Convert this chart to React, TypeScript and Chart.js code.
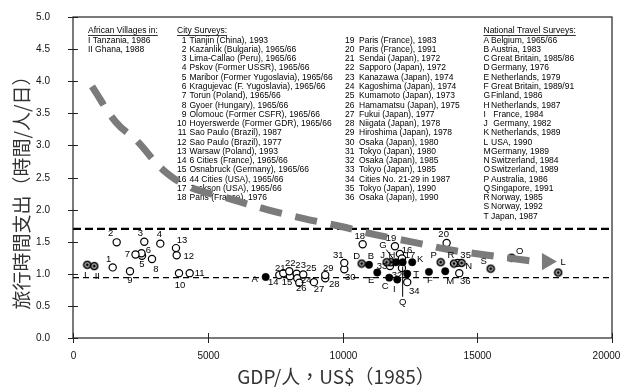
import React, { useEffect, useRef } from 'react';
import { Chart, registerables } from 'chart.js';

Chart.register(...registerables);

// ---------------- data ----------------
const X_TICKS = [0, 5000, 10000, 15000, 20000];
const Y_TICKS = [0, 0.5, 1, 1.5, 2, 2.5, 3, 3.5, 4, 4.5, 5];
const X_TITLE = 'GDP/人，US$（1985）';
const Y_TITLE = '旅行時間支出（時間/人/日）';

const budgetUpper = 1.7;
const budgetLower = 0.94;

const africanTitle = 'African Villages in:';
const africanLabels = ['I', 'II'];
const africanNames = ['Tanzania, 1986', 'Ghana, 1988'];
const africanGdp = [531, 790];
const africanTime = [1.14, 1.12];

const cityTitle = 'City Surveys:';
const cityNames = [
  'Tianjin (China), 1993',
  'Kazanlik (Bulgaria), 1965/66',
  'Lima-Callao (Peru), 1965/66',
  'Pskov (Former USSR), 1965/66',
  'Maribor (Former Yugoslavia), 1965/66',
  'Kragujevac (F. Yugoslavia), 1965/66',
  'Torun (Poland), 1965/66',
  'Gyoer (Hungary), 1965/66',
  'Olomouc (Former CSFR), 1965/66',
  'Hoyerswerde (Former GDR), 1965/66',
  'Sao Paulo (Brazil), 1987',
  'Sao Paulo (Brazil), 1977',
  'Warsaw (Poland), 1993',
  '6 Cities (France), 1965/66',
  'Osnabruck (Germany), 1965/66',
  '44 Cities (USA), 1965/66',
  'Jackson (USA), 1965/66',
  'Paris (France), 1976',
  'Paris (France), 1983',
  'Paris (France), 1991',
  'Sendai (Japan), 1972',
  'Sapporo (Japan), 1972',
  'Kanazawa (Japan), 1974',
  'Kagoshima (Japan), 1974',
  'Kumamoto (Japan), 1973',
  'Hamamatsu (Japan), 1975',
  'Fukui (Japan), 1977',
  'Niigata (Japan), 1978',
  'Hiroshima (Japan), 1978',
  'Osaka (Japan), 1980',
  'Tokyo (Japan), 1980',
  'Osaka (Japan), 1985',
  'Tokyo (Japan), 1985',
  'Cities No. 21-29 in 1987',
  'Tokyo (Japan), 1990',
  'Osaka (Japan), 1990',
];
const cityGdp = [
  1473, 1621, 2645, 3239, 2560, 2541, 2319, 2931, 2115, 3933, 4330, 3847,
  3821, 7654, 8051, 12131, 12206, 10748, 11946, 13864, 7802, 8025, 8299, 8321,
  8544, 8396, 8941, 9360, 9360, 10066, 10066, 12206, 11761, 12402, 14273, 14332,
];
const cityTime = [
  1.10, 1.49, 1.50, 1.47, 1.28, 1.32, 1.30, 1.23, 1.04, 1.01, 1.01, 1.29,
  1.40, 0.98, 0.96, 1.31, 1.24, 1.46, 1.43, 1.48, 1.01, 1.04, 1.00, 0.93,
  0.99, 0.86, 0.87, 0.93, 0.98, 1.07, 1.17, 1.09, 1.12, 0.87, 1.17, 1.01,
];

const nationalTitle = 'National Travel Surveys:';
const nationalLetters = ['A', 'B', 'C', 'D', 'E', 'F', 'G', 'H', 'I', 'J', 'K', 'L', 'M', 'N', 'O', 'P', 'Q', 'R', 'S', 'T'];
const nationalNames = [
  'Belgium, 1965/66',
  'Austria, 1983',
  'Great Britain, 1985/86',
  'Germany, 1976',
  'Netherlands, 1979',
  'Great Britain, 1989/91',
  'Finland, 1986',
  'Netherlands, 1987',
  ' France, 1984',
  ' Germany, 1982',
  'Netherlands, 1989',
  'USA, 1990',
  'Germany, 1989',
  'Switzerland, 1984',
  'Switzerland, 1989',
  'Australia, 1986',
  'Singapore, 1991',
  'Norway, 1985',
  'Norway, 1992',
  'Japan, 1987',
];
const nationalGdp = [
  7150, 10982, 11735, 10711, 11290, 13208, 11983, 11798, 12031, 11636,
  12588, 18005, 13812, 14420, 16275, 13642, 12232, 14135, 15497, 12402,
];
const nationalTime = [
  0.95, 1.14, 0.94, 1.16, 1.02, 1.03, 1.18, 1.18, 0.91, 1.18,
  1.18, 1.02, 1.04, 1.17, 1.25, 1.18, 1.18, 1.16, 1.08, 1.00,
];
const ringedNational = ['D', 'H', 'J', 'L', 'N', 'O', 'P', 'R', 'S'];

// trend arrow (hand-drawn curve in the source)
const trendGdp = [705, 1595, 2374, 3339, 4341, 5639, 7197, 8570, 9906, 11204, 12651, 14024, 15397, 16806, 17326];
const trendTime = [3.92, 3.36, 3.07, 2.62, 2.35, 2.19, 2.0, 1.86, 1.74, 1.61, 1.49, 1.37, 1.29, 1.21, 1.19];
const trendHeadGdp = 17585;
const trendHeadTime = 1.19;

// ---------------- label placement (px offsets from the mark) ----------------
const africanLabelOffsets = [[-2, 11], [3, 10]];
const cityLabelOffsets = [
  [-4, -8], [-6, -9], [-4, -8], [-1, -9], [0, 9], [7, -3], [-8, 0], [4, 10], [0, 9], [1, 12], [10, 0], [12, 1],
  [6, -8], [-6, 7], [-3, 6], [7, -4], [8, -3], [-3, -8], [-4, -8], [-3, -9], [-3, -5], [1, -8], [4, -8], [9, 2],
  [8, -6], [2, 6], [5, 7], [9, 6], [3, -7], [6, 8], [-6, -8], [-5, 7], [-8, 0], [7, 9], [8, -8], [6, 8],
];
const nationalLabelOffsets = [
  [-11, 2], [2, -8], [-4, 9], [-5, -7], [-6, 8], [1, 9], [-13, -17], [1, -7], [-3, 10], [-4, -7],
  [8, -3], [5, -10], [5, 10], [7, 3], [8, -6], [-7, -7], [0, 40], [-3, -8], [-7, -7], [9, 1],
];
const leaderLetters = ['G', 'Q'];

// ---------------- styling helpers ----------------
const SANS = '"Liberation Sans", Arial, sans-serif';
const CJK = '"Noto Sans CJK TC", "Noto Sans CJK JP", sans-serif';

function makeRinged(): HTMLCanvasElement {
  const c = document.createElement('canvas');
  c.width = 10;
  c.height = 10;
  const g = c.getContext('2d')!;
  g.fillStyle = '#000';
  g.beginPath();
  g.arc(5, 5, 4.3, 0, Math.PI * 2);
  g.fill();
  g.strokeStyle = '#fff';
  g.lineWidth = 1;
  g.beginPath();
  g.arc(5, 5, 2.2, 0, Math.PI * 2);
  g.stroke();
  return c;
}

function drawTextBlock(ctx: CanvasRenderingContext2D, left: number, top: number) {
  const row0 = top + 14;
  const dy = 9.27;
  ctx.save();
  ctx.font = `8.5px ${SANS}`;
  ctx.fillStyle = '#000';
  ctx.strokeStyle = '#000';
  ctx.textBaseline = 'middle';
  const titleU = (t: string, x: number) => {
    ctx.textAlign = 'left';
    ctx.fillText(t, x, row0);
    const w = ctx.measureText(t).width;
    ctx.lineWidth = 0.8;
    ctx.beginPath();
    ctx.moveTo(x, row0 + 4.5);
    ctx.lineTo(x + w, row0 + 4.5);
    ctx.stroke();
  };
  const c1 = left + 15;
  titleU(africanTitle, c1);
  africanLabels.forEach((l, i) => {
    ctx.textAlign = 'left';
    ctx.fillText(`${l} ${africanNames[i]}`, c1, row0 + dy * (i + 1));
  });
  const c2 = left + 104;
  titleU(cityTitle, c2);
  cityNames.forEach((n, i) => {
    const col = i < 18 ? 0 : 1;
    const yy = row0 + dy * ((i % 18) + 1);
    const numRight = col === 0 ? left + 113.5 : left + 281.5;
    const nameX = col === 0 ? left + 116.5 : left + 286;
    ctx.textAlign = 'right';
    ctx.fillText(String(i + 1), numRight, yy);
    ctx.textAlign = 'left';
    ctx.fillText(n, nameX, yy);
  });
  const c4 = left + 410.5;
  titleU(nationalTitle, c4);
  nationalLetters.forEach((l, i) => {
    const yy = row0 + dy * (i + 1);
    ctx.textAlign = 'left';
    ctx.fillText(l, c4, yy);
    ctx.fillText(nationalNames[i], c4 + 7.5, yy);
  });
  ctx.restore();
}

const overlay = {
  id: 'overlay',
  beforeDatasetsDraw(chart: any) {
    const { ctx, chartArea, scales } = chart;
    const { left, right, top, bottom } = chartArea;
    const x = scales.x;
    const y = scales.y;
    drawTextBlock(ctx, left, top);

    ctx.save();
    ctx.strokeStyle = '#000';
    // budget band lines
    ctx.lineWidth = 2.4;
    ctx.setLineDash([8, 4]);
    const yu = y.getPixelForValue(budgetUpper);
    ctx.beginPath();
    ctx.moveTo(left, yu);
    ctx.lineTo(right, yu);
    ctx.stroke();
    ctx.lineWidth = 1.2;
    ctx.setLineDash([6, 4]);
    const yl = y.getPixelForValue(budgetLower);
    ctx.beginPath();
    ctx.moveTo(left, yl);
    ctx.lineTo(right, yl);
    ctx.stroke();

    // frame
    ctx.setLineDash([]);
    ctx.strokeStyle = '#222';
    ctx.lineWidth = 1.2;
    ctx.strokeRect(left, top, right - left, bottom - top);

    // crossing tick marks + tick labels
    ctx.lineWidth = 1;
    ctx.fillStyle = '#111';
    ctx.font = `10px ${SANS}`;
    ctx.textBaseline = 'middle';
    Y_TICKS.forEach((v) => {
      const py = Math.round(y.getPixelForValue(v)) + 0.5;
      ctx.beginPath();
      ctx.moveTo(left - 5, py);
      ctx.lineTo(left + 5, py);
      ctx.stroke();
      ctx.textAlign = 'right';
      ctx.fillText(v.toFixed(1), left - 23, py);
    });
    X_TICKS.forEach((v) => {
      const px = Math.round(x.getPixelForValue(v)) + 0.5;
      ctx.beginPath();
      ctx.moveTo(px, bottom - 5);
      ctx.lineTo(px, bottom + 5);
      ctx.stroke();
      ctx.textAlign = 'center';
      ctx.fillText(String(v), v === X_TICKS[X_TICKS.length - 1] ? px - 6 : px, bottom + 18);
    });

    // axis titles
    ctx.fillStyle = '#333';
    ctx.font = `19px ${CJK}`;
    ctx.textAlign = 'center';
    ctx.textBaseline = 'middle';
    ctx.fillText(X_TITLE, 336, 377);
    ctx.save();
    ctx.translate(22, 188);
    ctx.rotate(-Math.PI / 2);
    ctx.fillText(Y_TITLE, 0, 0);
    ctx.restore();
    ctx.restore();
  },
  afterDatasetsDraw(chart: any) {
    const { ctx, scales } = chart;
    const x = scales.x;
    const y = scales.y;
    ctx.save();
    ctx.font = `9.5px ${SANS}`;
    ctx.fillStyle = '#000';
    ctx.strokeStyle = '#000';
    ctx.textAlign = 'center';
    ctx.textBaseline = 'middle';
    const put = (t: string, gx: number, gy: number, off: number[], leader: boolean) => {
      const px = x.getPixelForValue(gx);
      const py = y.getPixelForValue(gy);
      const lx = px + off[0];
      const ly = py + off[1];
      ctx.fillText(t, lx, ly);
      if (leader) {
        const dx = lx - px;
        const dyy = ly - py;
        const len = Math.hypot(dx, dyy);
        const ux = dx / len;
        const uy = dyy / len;
        ctx.lineWidth = 1;
        ctx.beginPath();
        ctx.moveTo(px + ux * 4.5, py + uy * 4.5);
        ctx.lineTo(lx - ux * 5.5, ly - uy * 5.5);
        ctx.stroke();
      }
    };
    africanLabels.forEach((l, i) => put(l, africanGdp[i], africanTime[i], africanLabelOffsets[i], false));
    cityGdp.forEach((g, i) => put(String(i + 1), g, cityTime[i], cityLabelOffsets[i], false));
    nationalLetters.forEach((l, i) =>
      put(l, nationalGdp[i], nationalTime[i], nationalLabelOffsets[i], leaderLetters.includes(l)),
    );
    ctx.restore();
  },
};

export default function App() {
  const ref = useRef<HTMLCanvasElement | null>(null);
  useEffect(() => {
    if (!ref.current) return;
    const ringed = makeRinged();
    const filledIdx = nationalLetters.map((l, i) => i).filter((i) => !ringedNational.includes(nationalLetters[i]));
    const ringedIdx = nationalLetters.map((l, i) => i).filter((i) => ringedNational.includes(nationalLetters[i]));
    const chart = new Chart(ref.current, {
      type: 'scatter',
      data: {
        datasets: [
          {
            type: 'line',
            label: 'trend',
            data: trendGdp.map((g, i) => ({ x: g, y: trendTime[i] })),
            borderColor: '#7b7b7b',
            borderWidth: 7,
            borderDash: [22, 14],
            borderCapStyle: 'butt',
            tension: 0.4,
            pointRadius: 0,
            fill: false,
            order: 0,
          } as any,
          {
            label: 'arrowhead',
            data: [{ x: trendHeadGdp, y: trendHeadTime }],
            pointStyle: 'triangle',
            rotation: 90,
            pointRadius: 10,
            backgroundColor: '#7b7b7b',
            borderColor: '#7b7b7b',
            borderWidth: 0,
            order: 0,
          } as any,
          {
            label: 'city',
            data: cityGdp.map((g, i) => ({ x: g, y: cityTime[i] })),
            pointStyle: 'circle',
            pointRadius: 3.6,
            pointBorderWidth: 1.2,
            backgroundColor: '#fff',
            borderColor: '#000',
            order: 2,
          } as any,
          {
            label: 'national',
            data: filledIdx.map((i) => ({ x: nationalGdp[i], y: nationalTime[i] })),
            pointStyle: 'circle',
            pointRadius: 3.7,
            pointBorderWidth: 0.5,
            backgroundColor: '#000',
            borderColor: '#000',
            order: 1,
          } as any,
          {
            label: 'ringed',
            data: [
              ...africanGdp.map((g, i) => ({ x: g, y: africanTime[i] })),
              ...ringedIdx.map((i) => ({ x: nationalGdp[i], y: nationalTime[i] })),
            ],
            pointStyle: ringed,
            pointRadius: 4,
            order: 1,
          } as any,
        ],
      },
      options: {
        animation: false,
        responsive: false,
        maintainAspectRatio: false,
        layout: { padding: { top: 17, left: 0, right: 13, bottom: 0 } },
        plugins: { legend: { display: false }, tooltip: { enabled: false } },
        scales: {
          x: {
            type: 'linear',
            min: 0,
            max: 20000,
            afterFit: (s: any) => {
              s.height = 49;
            },
            afterBuildTicks: (s: any) => {
              s.ticks = X_TICKS.map((v) => ({ value: v }));
            },
            ticks: { display: false },
            grid: { display: false, drawTicks: false },
            border: { display: false },
          },
          y: {
            type: 'linear',
            min: 0,
            max: 5,
            afterFit: (s: any) => {
              s.width = 73;
            },
            afterBuildTicks: (s: any) => {
              s.ticks = Y_TICKS.map((v) => ({ value: v }));
            },
            ticks: { display: false },
            grid: { display: false, drawTicks: false },
            border: { display: false },
          },
        },
      } as any,
      plugins: [overlay],
    });
    return () => chart.destroy();
  }, []);
  return (
    <div style={{ position: 'fixed', left: 0, top: 0, width: 625, height: 387, background: '#fff' }}>
      <canvas ref={ref} width={625} height={387} style={{ display: 'block' }} />
    </div>
  );
}
